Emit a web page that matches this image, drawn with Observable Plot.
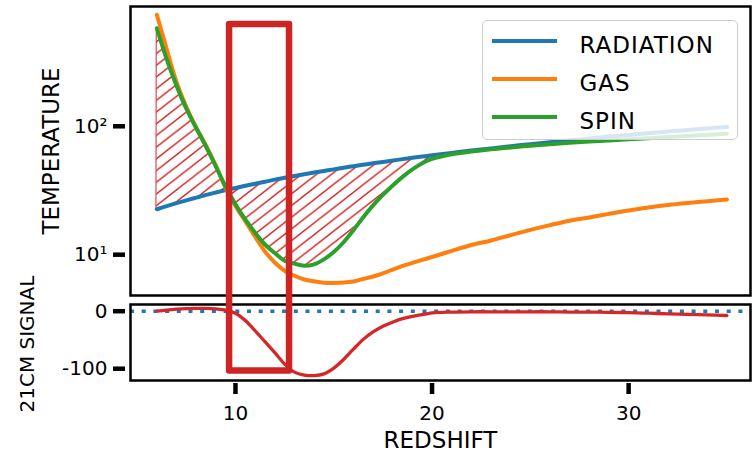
<!DOCTYPE html>
<html>
<head>
<meta charset="utf-8">
<script src="https://cdn.jsdelivr.net/npm/d3@7"></script>
<script src="https://cdn.jsdelivr.net/npm/@observablehq/plot@0.6"></script>
<style>
  body { margin: 0; background: #fff; }
  #wrap { position: relative; width: 752px; height: 454px; overflow: hidden; font-family: "DejaVu Sans", sans-serif; }
  #top { position: absolute; left: 0; top: 0; z-index: 2; }
  #bottom { position: absolute; left: 0; top: 296px; z-index: 1; }
  #legend { position: absolute; left: 482px; top: 20px; width: 256px; height: 120px; box-sizing: border-box;
            border: 1.5px solid #cccccc; border-radius: 5px; background: rgba(255,255,255,0.82); z-index: 3; }
  .lg-line { position: absolute; left: 8.5px; width: 65px; height: 4px; }
  .lg-text { position: absolute; left: 96.5px; font-size: 23px; line-height: 23px; color: #000; letter-spacing: 1px; white-space: nowrap; }
</style>
</head>
<body>
<div id="wrap">
  <div id="top"></div>
  <div id="bottom"></div>
  <div id="legend"></div>
</div>
<script>
// ---- data ----
const redshift = [6, 6.5, 7, 7.5, 8, 8.5, 9, 9.5, 10, 10.5, 11, 11.5, 12, 12.5, 13, 13.5, 14, 14.5, 15, 15.5,
  16, 16.5, 17, 17.5, 18, 18.5, 19, 19.5, 20, 21, 22, 23, 24, 25, 26, 27, 28, 29, 30, 31, 32, 33, 34, 35];
const radiation = [22.6, 23.9, 25.2, 26.5, 27.8, 29.2, 30.5, 31.8, 33.1, 34.4, 35.7, 37.0, 38.4, 39.7, 41.0, 42.3,
  43.6, 44.9, 46.2, 47.6, 48.9, 50.2, 51.5, 52.8, 54.1, 55.5, 56.8, 58.1, 59.4,
  62.0, 64.7, 67.3, 69.9, 72.6, 75.2, 77.8, 80.4, 83.1, 85.7, 88.3, 91.0, 93.6, 96.2, 98.9];
const gas = [740, 400, 222, 142, 98, 71, 49.5, 33.0, 24.0, 18.2, 13.8, 10.6, 8.7, 7.5, 6.85, 6.41, 6.20, 6.05,
  6.03, 6.07, 6.19, 6.47, 6.76, 7.16, 7.65, 8.18, 8.63, 9.10, 9.59,
  10.7, 11.9, 12.9, 14.2, 15.6, 17.0, 18.4, 19.5, 20.8, 22.1, 23.3, 24.4, 25.3, 26.1, 26.9];
const spin = [580, 333, 207, 137, 97, 69.5, 48.8, 33.8, 24.7, 18.8, 14.8, 12.0, 10.3, 8.97, 8.51, 8.2, 8.41, 9.2,
  10.5, 12.5, 15.5, 19.6, 24.2, 29.2, 34.6, 40.4, 46.2, 51.6, 55.8,
  60.6, 63.7, 66.3, 68.5, 70.5, 72.5, 74.3, 76.0, 77.6, 79.2, 80.8, 82.4, 84.0, 85.7, 87.5];
const signal = [0, 2, 3.5, 4.5, 5, 5, 4, 2, -3.5, -16, -34, -53, -72, -92, -106, -111, -112, -109, -99, -84,
  -66, -49, -36, -26, -19, -13, -9, -6, -3,
  -1.5, -1, -1, -1, -1, -1, -1.5, -1.5, -2, -2.5, -3.5, -4.5, -5.5, -6.5, -7.5];

const seriesNames = ["RADIATION", "GAS", "SPIN"];
const seriesColors = ["#1f77b4", "#ff7f0e", "#2ca02c"];
const seriesValues = [radiation, gas, spin];

const tempTicks = [10, 100];
const tempTickLabels = ["10¹", "10²"];
const signalTicks = [0, -100];
const signalTickLabels = ["0", "-100"];
const redshiftTicks = [10, 20, 30];

const highlightBox = [{z1: 9.7, z2: 12.75, t1: 1.24, t2: 621}];

// ---- tables ----
const rows = redshift.map((z, i) => ({z, radiation: radiation[i], gas: gas[i], spin: spin[i], signal: signal[i]}));
const longRows = seriesNames.flatMap((name, k) => redshift.map((z, i) => ({z, series: name, value: seriesValues[k][i]})));
const hatchRows = rows.filter(d => d.z <= 23);

const xDomain = [4.66, 36.2];
const font = "DejaVu Sans";
const curve = "catmull-rom";

const topPlot = Plot.plot({
  width: 752, height: 300,
  marginLeft: 130, marginRight: 2, marginTop: 6, marginBottom: 5,
  style: {fontFamily: font, fontSize: "20px", overflow: "visible", background: "transparent"},
  x: {domain: xDomain, axis: null},
  y: {type: "log", domain: [4.81, 857]},
  color: {domain: seriesNames, range: seriesColors},
  marks: [
    Plot.areaY(hatchRows, {x: "z", y1: "radiation", y2: "spin", fill: "url(#hatch)", stroke: "#d62728", strokeWidth: 1, curve}),
    Plot.lineY(longRows, {x: "z", y: "value", z: "series", stroke: "series", strokeWidth: 4, curve}),
    Plot.axisY({ticks: tempTicks, tickFormat: d => tempTickLabels[tempTicks.indexOf(d)], tickSize: 12, tickPadding: 6, dx: -5, strokeWidth: 4.5, fontSize: 20, label: null}),
    Plot.text(["TEMPERATURE"], {text: d => d, frameAnchor: "left", rotate: -90, dx: -79, fontSize: 23, textAnchor: "middle", lineAnchor: "middle"}),
    Plot.frame({strokeWidth: 2.5}),
    Plot.rect(highlightBox, {x1: "z1", x2: "z2", y1: "t1", y2: "t2", fill: "none", stroke: "#cd2424", strokeWidth: 6.5, strokeLinejoin: "round"})
  ]
});
d3.select(topPlot).insert("defs", ":first-child").html(
  '<pattern id="hatch" patternUnits="userSpaceOnUse" width="15" height="11.7">' +
  '<path d="M0,11.7L15,0M-3.75,2.925L3.75,-2.925M11.25,14.625L18.75,8.775" stroke="#d62728" stroke-width="1.4" fill="none"/>' +
  '</pattern>');
document.getElementById("top").appendChild(topPlot);

const bottomPlot = Plot.plot({
  width: 752, height: 158,
  marginLeft: 130, marginRight: 2, marginTop: 8, marginBottom: 74,
  style: {fontFamily: font, fontSize: "20px", overflow: "visible", background: "transparent"},
  x: {domain: xDomain},
  y: {domain: [-120.5, 11.65]},
  marks: [
    Plot.ruleY([0], {stroke: "#1f77b4", strokeWidth: 3.5, strokeDasharray: "4,7.7"}),
    Plot.lineY(rows, {x: "z", y: "signal", stroke: "#d62728", strokeWidth: 3.3, curve}),
    Plot.axisY({ticks: signalTicks, tickFormat: d => signalTickLabels[signalTicks.indexOf(d)], tickSize: 12, tickPadding: 6, dx: -5, strokeWidth: 4.5, fontSize: 20, label: null}),
    Plot.axisX({ticks: redshiftTicks, tickFormat: d => String(d), tickSize: 11, tickPadding: 11, dy: 3, strokeWidth: 4.5, fontSize: 20, label: null}),
    Plot.text(["REDSHIFT"], {text: d => d, frameAnchor: "bottom", dy: 60, fontSize: 23, lineAnchor: "middle"}),
    Plot.text(["21CM SIGNAL"], {text: d => d, frameAnchor: "bottom-left", rotate: -90, textAnchor: "start", lineAnchor: "middle", dx: -103, dy: 32, fontSize: 20}),
    Plot.frame({strokeWidth: 2.5})
  ]
});
document.getElementById("bottom").appendChild(bottomPlot);

// ---- legend ----
const legend = document.getElementById("legend");
seriesNames.forEach((name, i) => {
  const line = document.createElement("div");
  line.className = "lg-line";
  line.style.top = (19.5 + 38 * i - 2) + "px";
  line.style.background = seriesColors[i];
  legend.appendChild(line);
  const label = document.createElement("div");
  label.className = "lg-text";
  label.style.top = (12.5 + 38 * i) + "px";
  label.textContent = name;
  legend.appendChild(label);
});
</script>
</body>
</html>
